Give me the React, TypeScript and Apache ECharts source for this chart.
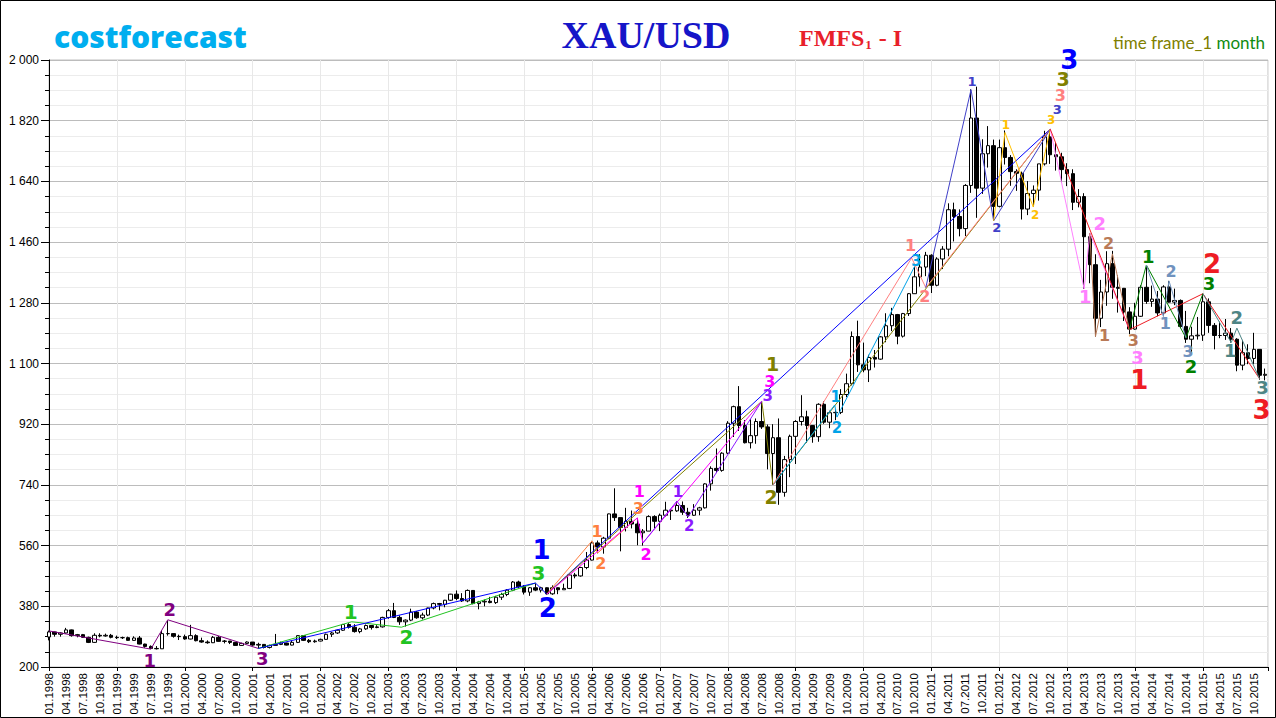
import { useEffect, useRef } from "react";
import * as echarts from "echarts";

// ---------- DATA ----------
const years = [1998, 1999, 2000, 2001, 2002, 2003, 2004, 2005, 2006, 2007, 2008, 2009, 2010, 2011, 2012, 2013, 2014, 2015];
const quarterMonths = ["01", "04", "07", "10"];
const tickLabels: string[] = years.flatMap((y) => quarterMonths.map((m) => `${m}.${y}`));
const yTicks = [200, 380, 560, 740, 920, 1100, 1280, 1460, 1640, 1820, 2000];

// monthly candles: [open, close, low, high]
const gold1998 = [[289,304,279,308],[304,297,290,305],[297,301,290,303],[301,310,299,316],[310,293,290,311],[293,296,288,298],[296,288,286,298],[288,273,271,290],[273,294,272,300],[294,292,288,300],[292,294,290,299],[294,288,285,298]];
const gold1999 = [[288,287,283,293],[287,287,283,290],[287,279,278,290],[279,286,278,291],[286,268,267,292],[268,261,257,269],[261,255,253,264],[255,254,252,262],[254,299,254,308],[299,299,293,338],[299,291,287,300],[291,290,280,296]];
const gold2000 = [[290,283,281,296],[283,293,282,325],[293,278,276,297],[278,274,272,287],[274,272,269,279],[272,288,271,292],[288,276,275,292],[276,277,270,280],[277,273,268,277],[273,264,264,274],[264,270,263,272],[270,274,269,276]];
const gold2001 = [[274,265,263,274],[265,267,255,272],[267,258,255,268],[258,264,255,266],[264,267,264,298],[267,271,265,275],[271,265,264,272],[265,273,264,278],[273,293,271,294],[293,279,277,293],[279,275,271,283],[275,277,272,281]];
const gold2002 = [[277,282,276,284],[282,297,281,299],[297,301,289,304],[301,309,298,311],[309,326,307,328],[326,318,314,330],[318,305,302,327],[305,313,300,316],[313,323,310,326],[323,317,311,324],[317,319,315,324],[319,347,317,349]];
const gold2003 = [[347,367,343,372],[367,347,345,390],[347,334,325,353],[334,339,320,341],[339,363,336,373],[363,346,343,366],[346,354,341,361],[354,375,351,376],[375,388,371,391],[388,386,368,390],[386,398,377,399],[398,416,396,417]];
const gold2004 = [[416,403,398,427],[403,396,393,419],[396,427,392,430],[427,388,386,428],[388,393,371,396],[393,395,380,400],[395,391,389,408],[391,407,387,411],[407,415,399,420],[415,428,410,431],[428,452,425,455],[452,438,434,456]];
const gold2005 = [[438,422,415,443],[422,435,411,437],[435,428,425,448],[428,435,421,438],[435,417,414,436],[417,435,414,442],[435,429,416,436],[429,433,429,447],[433,473,431,475],[473,470,463,479],[470,495,468,497],[495,517,490,541]];
const gold2006 = [[517,568,516,574],[568,556,537,575],[556,582,536,586],[582,654,579,655],[654,643,633,730],[643,614,543,643],[614,632,602,672],[632,624,611,664],[624,598,561,642],[598,603,560,609],[603,646,603,650],[646,632,611,650]];
const gold2007 = [[632,650,603,655],[650,665,646,690],[665,663,636,668],[663,679,660,692],[679,659,651,691],[659,650,642,672],[650,665,648,683],[665,672,650,675],[672,743,670,745],[743,789,723,795],[789,783,775,848],[783,834,779,837]];
const gold2008 = [[834,923,831,929],[923,972,882,975],[972,916,900,1033],[916,865,863,932],[865,886,848,935],[886,928,862,937],[928,912,906,988],[912,833,786,919],[833,880,740,920],[880,718,681,937],[718,815,705,826],[815,884,763,889]];
const gold2009 = [[884,928,802,932],[928,942,916,1006],[942,916,865,960],[916,883,865,917],[883,979,868,982],[979,926,921,988],[926,954,908,960],[954,955,932,964],[955,1008,950,1024],[1008,1040,1000,1070],[1040,1180,1035,1195],[1180,1096,1075,1227]];
const gold2010 = [[1096,1081,1074,1162],[1081,1118,1045,1126],[1118,1113,1088,1140],[1113,1179,1111,1181],[1179,1212,1163,1249],[1212,1245,1196,1265],[1245,1181,1157,1247],[1181,1248,1177,1250],[1248,1307,1241,1309],[1307,1357,1307,1387],[1357,1386,1328,1424],[1386,1421,1359,1431]];
const gold2011 = [[1421,1332,1309,1424],[1332,1410,1329,1415],[1410,1439,1380,1448],[1439,1556,1418,1575],[1556,1536,1462,1577],[1536,1500,1477,1557],[1500,1628,1478,1632],[1628,1828,1606,1913],[1828,1620,1532,1921],[1620,1722,1603,1765],[1722,1746,1681,1804],[1746,1566,1523,1764]];
const gold2012 = [[1566,1740,1563,1764],[1740,1711,1690,1791],[1711,1669,1627,1718],[1669,1664,1612,1676],[1664,1558,1527,1669],[1558,1604,1540,1641],[1604,1614,1564,1628],[1614,1692,1583,1692],[1692,1772,1687,1790],[1772,1719,1692,1795],[1719,1713,1672,1755],[1713,1675,1636,1725]];
const gold2013 = [[1675,1663,1626,1694],[1663,1578,1555,1676],[1578,1595,1563,1617],[1595,1476,1321,1605],[1476,1393,1338,1487],[1393,1234,1180,1424],[1234,1312,1208,1348],[1312,1396,1271,1433],[1396,1326,1292,1434],[1326,1323,1251,1361],[1323,1253,1226,1324],[1253,1202,1187,1267]];
const gold2014 = [[1202,1240,1200,1280],[1240,1326,1238,1332],[1326,1284,1277,1392],[1284,1291,1268,1331],[1291,1250,1240,1315],[1250,1327,1240,1332],[1327,1282,1281,1345],[1282,1287,1273,1322],[1287,1210,1205,1290],[1210,1172,1161,1256],[1172,1182,1131,1209],[1182,1184,1171,1238]];
const gold2015 = [[1184,1283,1167,1307],[1283,1213,1191,1293],[1213,1183,1142,1220],[1183,1183,1175,1224],[1183,1190,1170,1232],[1190,1172,1162,1205],[1172,1095,1077,1175],[1095,1132,1080,1170],[1132,1115,1098,1157],[1115,1142,1098,1191],[1142,1065,1052,1142],[1065,1068,1050,1085]];

const goldYears = [gold1998, gold1999, gold2000, gold2001, gold2002, gold2003, gold2004, gold2005, gold2006, gold2007, gold2008, gold2009, gold2010, gold2011, gold2012, gold2013, gold2014, gold2015];

// wave turning points: [month index from 01.1998, price]
const wavePurple = [[0, 307], [18, 253], [21, 340], [37, 255]];
const waveLime = [[37, 255], [53.5, 334], [62.3, 318], [86, 449]];
const waveBlue = [[37, 255], [86, 449], [88, 416], [177, 1795]];
const waveOlive = [[88, 416], [126, 988], [128, 740], [177, 1795]];
const waveOrange = [[88, 416], [96, 574], [97, 538], [104, 642]];
const waveMagenta = [[88, 416], [104, 642], [105, 568], [126, 988]];
const waveViolet = [[105, 568], [111, 692], [113, 645], [126, 988]];
const waveCyan = [[128, 740], [138.9, 977], [139.3, 941], [153, 1387]];
const waveSalmon = [[128, 740], [152.5, 1413], [155, 1325], [177, 1795]];
const waveSlate = [[155, 1325], [163, 1912], [167, 1523], [177, 1795]];
const waveGold = [[167, 1523], [169, 1785], [174, 1564], [177, 1795]];
const wavePink = [[177, 1795], [183, 1321], [184, 1487], [191, 1200]];
const waveBrown = [[184, 1487], [185, 1180], [188, 1425], [191, 1200]];
const waveRed = [[177, 1795], [191, 1200], [204, 1307], [214, 1055]];
const waveGreen = [[191, 1200], [194, 1392], [201, 1176], [204, 1307]];
const waveSteel = [[194, 1392], [197, 1240], [198, 1345], [201, 1176]];
const waveTeal = [[204, 1307], [209, 1162], [210, 1205], [214, 1055]];

// ---------- STYLES ----------
const WAVES = [
  { pts: wavePurple, color: "#800080", size: 18, off: [[-1, 11], [2, -10], [4, 10]] },
  { pts: waveLime, color: "#22c322", size: 20, off: [[-1, -10], [5, 10], [3, -10]] },
  { pts: waveBlue, color: "#0000ff", size: 26, off: [[6, -33], [1, 14], [19, -69]] },
  { pts: waveOlive, color: "#808000", size: 19, off: [[11, -37], [-2, 12], [13, -50]] },
  { pts: waveOrange, color: "#ff8040", size: 16, off: [[5, -9], [3, 10], [1, -9]] },
  { pts: waveMagenta, color: "#ff00ff", size: 16, off: [[2, -26], [3, 12], [8, -20]] },
  { pts: waveViolet, color: "#8c1aff", size: 15, off: [[1, -9], [1, 9], [6, -5]] },
  { pts: waveCyan, color: "#00a2e8", size: 15, off: [[1, -8], [0, 11], [2, -6]] },
  { pts: waveSalmon, color: "#ff8080", size: 16, off: [[-1, -12], [-1, 9], [10, -34]] },
  { pts: waveSlate, color: "#4040c8", size: 13, off: [[1, -8], [3, 7], [7, -20]] },
  { pts: waveGold, color: "#ffc000", size: 12, off: [[1, -8], [2, 8], [1, -9]] },
  { pts: wavePink, color: "#ff80ff", size: 18, off: [[1, 8], [10, -9], [8, 28]] },
  { pts: waveBrown, color: "#b97a57", size: 16, off: [[9, -1], [-4, -10], [4, 11]] },
  { pts: waveRed, color: "#ee1c24", size: 26, off: [[10, 50], [9, -30], [2, 31]] },
  { pts: waveGreen, color: "#008000", size: 18, off: [[2, -9], [5, 29], [6, -10]] },
  { pts: waveSteel, color: "#7092be", size: 16, off: [[2, 7], [2, -9], [2, 14]] },
  { pts: waveTeal, color: "#4e8585", size: 18, off: [[-1, 8], [0, -11], [3, 9]] },
];

const fmtY = (v: number) =>
  v >= 1000 ? `${Math.floor(v / 1000)} ${String(v % 1000).padStart(3, "0")}` : String(v);

export default function App() {
  const ref = useRef<HTMLDivElement>(null);

  useEffect(() => {
    document.body.style.margin = "0";
    if (!ref.current) return;
    const chart = echarts.init(ref.current, undefined, { renderer: "svg" });

    const candles = goldYears.flat().map((r, i) => [i, r[0], r[1], r[2], r[3]]);
    const xMax = candles.length - 0.5;

    const lineSeries = WAVES.map((w) => ({
      type: "line",
      data: w.pts,
      symbol: "none",
      silent: true,
      z: 3,
      lineStyle: { color: w.color, width: 1, opacity: 1 },
    }));

    const labelSeries = WAVES.map((w) => ({
      type: "scatter",
      silent: true,
      z: 4,
      symbolSize: 1,
      itemStyle: { color: "rgba(255,255,255,0)", opacity: 1 },
      data: w.pts.slice(1).map((p, k) => ({
        value: p,
        label: {
          show: true,
          position: "inside",
          formatter: String(k + 1),
          offset: w.off[k],
          color: w.color,
          opacity: 1,
          fontSize: w.size,
          fontWeight: "bold",
          fontFamily: "DejaVu Sans",
        },
      })),
    }));

    const option: any = {
      animation: false,
      backgroundColor: "#ffffff",
      grid: {
        left: 49,
        right: 8,
        top: 60,
        bottom: 51,
        show: true,
        borderColor: "#c0c0c0",
        borderWidth: 1,
        backgroundColor: "transparent",
      },
      xAxis: [
        {
          type: "value",
          min: 0,
          max: xMax,
          interval: 3,
          position: "bottom",
          axisLine: { show: true, lineStyle: { color: "#000", width: 1 } },
          axisTick: { show: false },
          splitLine: { show: false },
          axisLabel: {
            rotate: 90,
            margin: 6,
            fontSize: 11.5,
            color: "#000",
            fontFamily: "Liberation Sans",
            showMaxLabel: false,
            formatter: (v: number) => {
              if (v % 3 !== 0) return "";
              return tickLabels[v / 3] ?? "";
            },
          },
        },
        {
          type: "value",
          min: 0,
          max: xMax,
          interval: 12,
          position: "bottom",
          axisLine: { show: false },
          axisTick: { show: true, length: 4, lineStyle: { color: "#000" } },
          axisLabel: { show: false },
          splitLine: { show: true, lineStyle: { color: "#e8e8e8", width: 1 } },
        },
      ],
      yAxis: {
        type: "value",
        min: yTicks[0],
        max: yTicks[yTicks.length - 1],
        interval: 180,
        axisLine: { show: true, lineStyle: { color: "#000", width: 1 } },
        axisTick: { show: true, length: 8, lineStyle: { color: "#000" } },
        minorTick: { show: true, splitNumber: 4, length: 4, lineStyle: { color: "#000" } },
        minorSplitLine: { show: true, lineStyle: { color: "#ececec", width: 1 } },
        splitLine: { show: true, lineStyle: { color: "#bcbcbc", width: 1 } },
        axisLabel: {
          margin: 10,
          fontSize: 12,
          color: "#000",
          fontFamily: "Liberation Sans",
          formatter: fmtY,
        },
      },
      series: [
        {
          type: "candlestick",
          data: candles,
          encode: { x: 0, y: [1, 2, 3, 4] },
          barWidth: 4,
          silent: true,
          z: 2,
          itemStyle: {
            color: "#ffffff",
            color0: "#000000",
            borderColor: "#000000",
            borderColor0: "#000000",
            borderWidth: 1,
          },
        },
        ...lineSeries,
        ...labelSeries,
      ],
      graphic: [
        {
          type: "rect",
          silent: true,
          shape: { x: 0.5, y: 0.5, width: 1275, height: 717 },
          style: { fill: "none", stroke: "#000", lineWidth: 1 },
        },
        {
          type: "text",
          x: 54,
          y: 36,
          style: {
            text: "costforecast",
            fill: "#00aeef",
            fontSize: 30,
            fontWeight: 800,
            fontFamily: "Open Sans",
            align: "left",
            verticalAlign: "middle",
          },
        },
        {
          type: "text",
          x: 646,
          y: 35,
          style: {
            text: "XAU/USD",
            fill: "#1515c8",
            fontSize: 38,
            fontWeight: "bold",
            fontFamily: "Liberation Serif",
            align: "center",
            verticalAlign: "middle",
          },
        },
        {
          type: "text",
          x: 799,
          y: 38,
          style: {
            text: "{a|FMFS}{b|1}{a| - I}",
            align: "left",
            verticalAlign: "middle",
            rich: {
              a: { fill: "#e8202a", fontSize: 24, fontWeight: "bold", fontFamily: "Liberation Serif" },
              b: { fill: "#e8202a", fontSize: 13, fontWeight: "bold", fontFamily: "Liberation Serif", padding: [12, 1, 0, 1] },
            },
          },
        },
        {
          type: "text",
          x: 1265,
          y: 42,
          style: {
            text: "{o|time frame_1}{g| month}",
            align: "right",
            verticalAlign: "middle",
            rich: {
              o: { fill: "#808000", fontSize: 17, fontFamily: "Lato" },
              g: { fill: "#108a10", fontSize: 17, fontFamily: "Lato" },
            },
          },
        },
      ],
    };

    chart.setOption(option);
    return () => chart.dispose();
  }, []);

  return (
    <div
      ref={ref}
      style={{ position: "absolute", left: 0, top: 0, width: 1276, height: 718 }}
    />
  );
}
